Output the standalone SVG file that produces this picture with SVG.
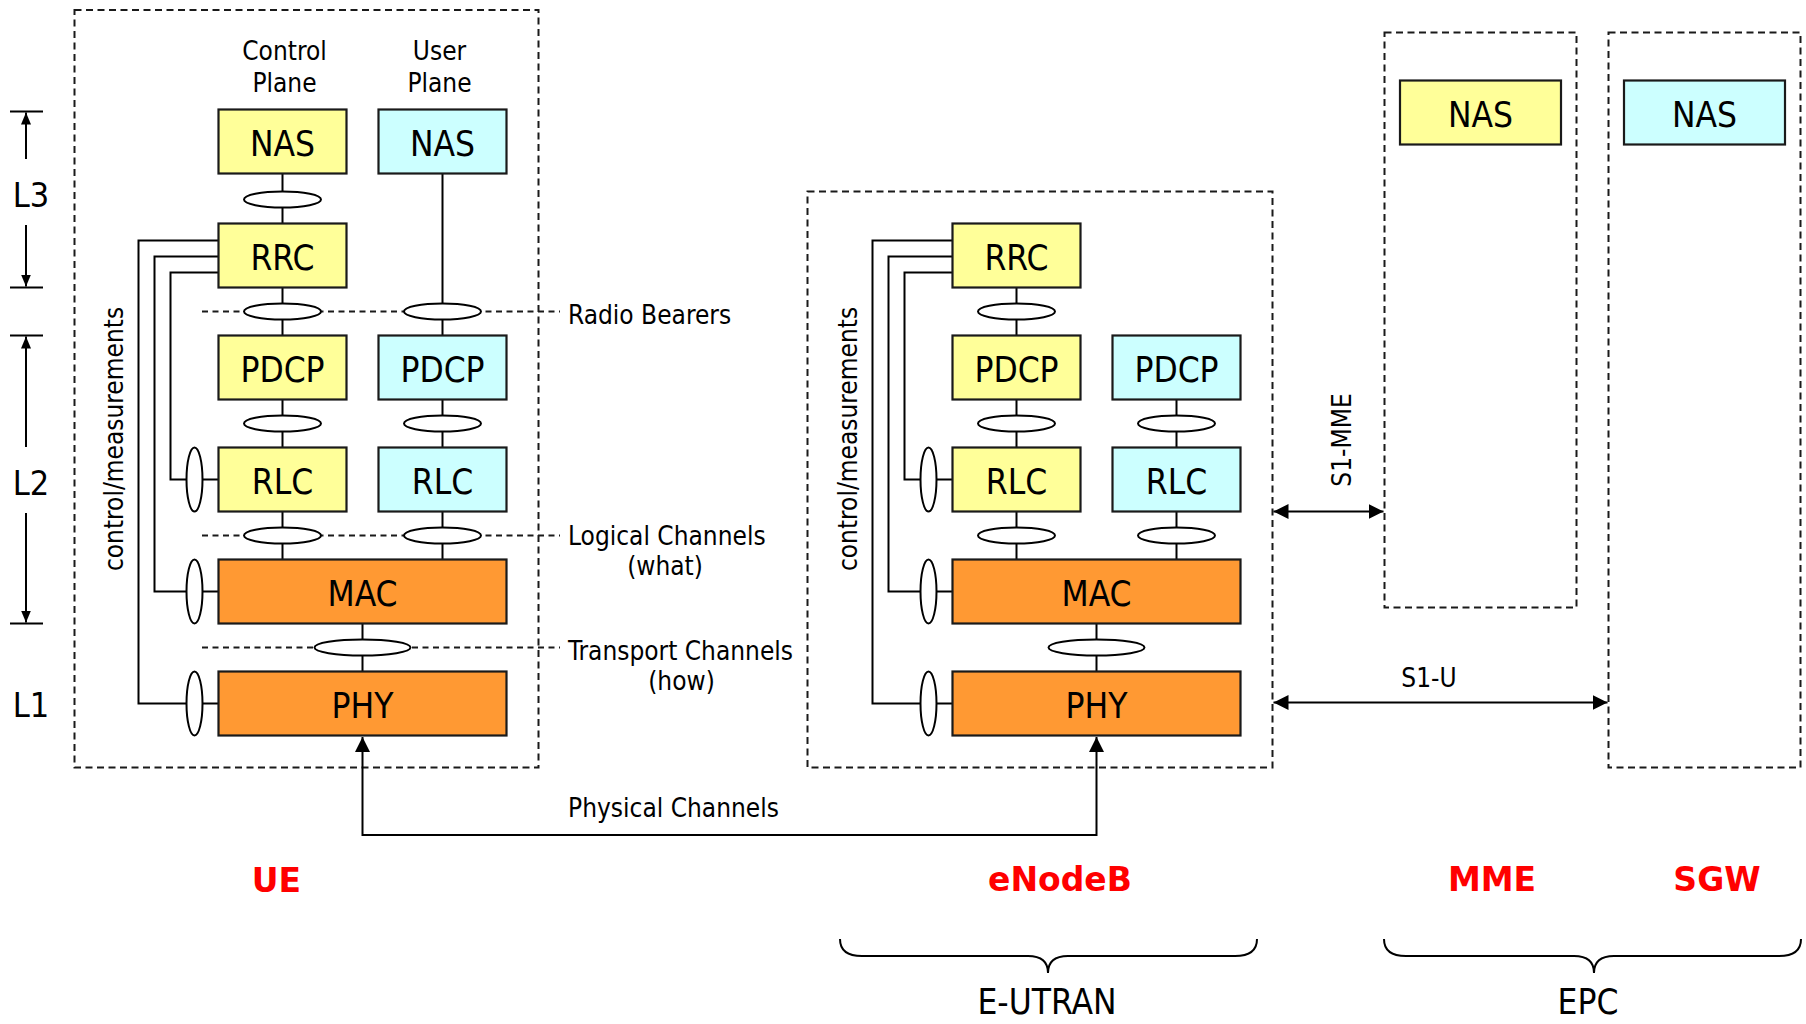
<svg xmlns="http://www.w3.org/2000/svg" width="1806" height="1024" viewBox="0 0 1806 1024">
  <style>
    .frame { fill: none; stroke: #1a1a1a; stroke-width: 2; stroke-dasharray: 7 4.5; }
    .sep { fill: none; stroke: #1a1a1a; stroke-width: 2; stroke-dasharray: 6 4.5; }
    .blk { stroke: #1a1a1a; stroke-width: 2.2; }
    .cp { fill: #ffff99; }
    .up { fill: #ccffff; }
    .l12 { fill: #ff9933; }
    .wire { fill: none; stroke: #000; stroke-width: 2; }
    .sap { fill: #fff; stroke: #000; stroke-width: 2; }
    .t { font-family: "DejaVu Sans Condensed", "DejaVu Sans", sans-serif; font-stretch: condensed; fill: #000; }
    .lbl { font-size: 26px; }
    .box { font-size: 35px; text-anchor: middle; }
    .lvl { font-size: 34px; text-anchor: middle; }
    .grp { font-size: 35px; text-anchor: middle; }
    .ent { font-family: "DejaVu Sans", sans-serif; font-weight: bold; font-size: 33px; fill: #ff0000; text-anchor: middle; }
    .mid { text-anchor: middle; }
  </style>
  <defs>
    <marker id="tip" markerUnits="userSpaceOnUse" markerWidth="16" markerHeight="16" refX="15" refY="7.5" orient="auto-start-reverse">
      <path d="M0,0 L15,7.5 L0,15 z" fill="#000"/>
    </marker>
    <marker id="tipSm" markerUnits="userSpaceOnUse" markerWidth="13" markerHeight="11" refX="12" refY="5" orient="auto">
      <path d="M0,0 L12,5 L0,10 z" fill="#000"/>
    </marker>
  </defs>
  <rect width="1806" height="1024" fill="#fff"/>

  <!-- node frames -->
  <g id="ue-frame"><rect class="frame" x="74.5" y="10" width="464" height="757.5"/></g>
  <g id="enb-frame"><rect class="frame" x="807.5" y="191.5" width="465" height="576"/></g>
  <g id="mme-frame"><rect class="frame" x="1384.5" y="32.5" width="192" height="575"/></g>
  <g id="sgw-frame"><rect class="frame" x="1608.5" y="32.5" width="192" height="735"/></g>

  <!-- layer indicators -->
  <g id="layers">
    <path class="wire" d="M10,111.5 H43 M10,287.5 H43 M10,335.5 H43 M10,623.5 H43"/>
    <path class="wire" d="M26,159 V112.5" marker-end="url(#tipSm)"/>
    <path class="wire" d="M26,225 V286.5" marker-end="url(#tipSm)"/>
    <path class="wire" d="M26,447 V336.5" marker-end="url(#tipSm)"/>
    <path class="wire" d="M26,513 V622.5" marker-end="url(#tipSm)"/>
    <text class="t lvl" x="31" y="207">L3</text>
    <text class="t lvl" x="31" y="495">L2</text>
    <text class="t lvl" x="31" y="717">L1</text>
  </g>

  <!-- connectors -->
  <g id="connectors">
    <!-- channel boundaries -->
    <path class="sep" d="M202,311.5 H560 M202,535.5 H560 M202,647.5 H560"/>
    <!-- UE stack -->
    <path class="wire" d="M282.5,173.5 V223.5 M282.5,287.5 V335.5 M282.5,399.5 V447.5 M282.5,511.5 V559.5"/>
    <path class="wire" d="M442.5,173.5 V335.5 M442.5,399.5 V447.5 M442.5,511.5 V559.5 M362.5,623.5 V671.5"/>
    <path class="wire" d="M218.5,240.5 H138.5 V703.5 H218.5 M218.5,256.5 H154.5 V591.5 H218.5 M218.5,272.5 H170.5 V479.5 H218.5"/>
    <!-- eNodeB stack -->
    <path class="wire" d="M1016.5,287.5 V335.5 M1016.5,399.5 V447.5 M1016.5,511.5 V559.5"/>
    <path class="wire" d="M1176.5,399.5 V447.5 M1176.5,511.5 V559.5 M1096.5,623.5 V671.5"/>
    <path class="wire" d="M952.5,240.5 H872.5 V703.5 H952.5 M952.5,256.5 H888.5 V591.5 H952.5 M952.5,272.5 H904.5 V479.5 H952.5"/>
    <!-- service access points -->
    <ellipse class="sap" cx="282.5" cy="199.5" rx="38.5" ry="8"/>
    <ellipse class="sap" cx="282.5" cy="311.5" rx="38.5" ry="8"/>
    <ellipse class="sap" cx="442.5" cy="311.5" rx="38.5" ry="8"/>
    <ellipse class="sap" cx="282.5" cy="423.5" rx="38.5" ry="8"/>
    <ellipse class="sap" cx="442.5" cy="423.5" rx="38.5" ry="8"/>
    <ellipse class="sap" cx="282.5" cy="535.5" rx="38.5" ry="8"/>
    <ellipse class="sap" cx="442.5" cy="535.5" rx="38.5" ry="8"/>
    <ellipse class="sap" cx="362.5" cy="647.5" rx="48" ry="8"/>
    <ellipse class="sap" cx="194.5" cy="479.5" rx="8" ry="32"/>
    <ellipse class="sap" cx="194.5" cy="591.5" rx="8" ry="32"/>
    <ellipse class="sap" cx="194.5" cy="703.5" rx="8" ry="32"/>
    <ellipse class="sap" cx="1016.5" cy="311.5" rx="38.5" ry="8"/>
    <ellipse class="sap" cx="1016.5" cy="423.5" rx="38.5" ry="8"/>
    <ellipse class="sap" cx="1176.5" cy="423.5" rx="38.5" ry="8"/>
    <ellipse class="sap" cx="1016.5" cy="535.5" rx="38.5" ry="8"/>
    <ellipse class="sap" cx="1176.5" cy="535.5" rx="38.5" ry="8"/>
    <ellipse class="sap" cx="1096.5" cy="647.5" rx="48" ry="8"/>
    <ellipse class="sap" cx="928.5" cy="479.5" rx="8" ry="32"/>
    <ellipse class="sap" cx="928.5" cy="591.5" rx="8" ry="32"/>
    <ellipse class="sap" cx="928.5" cy="703.5" rx="8" ry="32"/>
    <!-- physical channels -->
    <path class="wire" d="M362.5,737 V835 H1096.5 V737" marker-start="url(#tip)" marker-end="url(#tip)"/>
    <!-- S1 interfaces -->
    <path class="wire" d="M1273.5,511.5 H1383.5" marker-start="url(#tip)" marker-end="url(#tip)"/>
    <path class="wire" d="M1273.5,702.5 H1607.5" marker-start="url(#tip)" marker-end="url(#tip)"/>
  </g>

  <!-- UE protocol stack -->
  <g id="ue">
    <text class="t lbl mid" x="284.5" y="60">Control</text>
    <text class="t lbl mid" x="284.5" y="92">Plane</text>
    <text class="t lbl mid" x="439.5" y="60">User</text>
    <text class="t lbl mid" x="439.5" y="92">Plane</text>
    <text class="t lbl mid" transform="translate(123,439) rotate(-90)">control/measurements</text>
  </g>
  <g id="ue-nas-c"><rect class="blk cp" x="218.5" y="109.5" width="128" height="64"/><text class="t box" x="282.5" y="156">NAS</text></g>
  <g id="ue-nas-u"><rect class="blk up" x="378.5" y="109.5" width="128" height="64"/><text class="t box" x="442.5" y="156">NAS</text></g>
  <g id="ue-rrc"><rect class="blk cp" x="218.5" y="223.5" width="128" height="64"/><text class="t box" x="282.5" y="270">RRC</text></g>
  <g id="ue-pdcp-c"><rect class="blk cp" x="218.5" y="335.5" width="128" height="64"/><text class="t box" x="282.5" y="382">PDCP</text></g>
  <g id="ue-pdcp-u"><rect class="blk up" x="378.5" y="335.5" width="128" height="64"/><text class="t box" x="442.5" y="382">PDCP</text></g>
  <g id="ue-rlc-c"><rect class="blk cp" x="218.5" y="447.5" width="128" height="64"/><text class="t box" x="282.5" y="494">RLC</text></g>
  <g id="ue-rlc-u"><rect class="blk up" x="378.5" y="447.5" width="128" height="64"/><text class="t box" x="442.5" y="494">RLC</text></g>
  <g id="ue-mac"><rect class="blk l12" x="218.5" y="559.5" width="288" height="64"/><text class="t box" x="362.5" y="606">MAC</text></g>
  <g id="ue-phy"><rect class="blk l12" x="218.5" y="671.5" width="288" height="64"/><text class="t box" x="362.5" y="718">PHY</text></g>

  <!-- channel labels -->
  <g id="channel-labels">
    <text class="t lbl" x="568" y="323.5">Radio Bearers</text>
    <text class="t lbl" x="568" y="544.5">Logical Channels</text>
    <text class="t lbl mid" x="665" y="575">(what)</text>
    <text class="t lbl" x="568" y="659.5">Transport Channels</text>
    <text class="t lbl mid" x="681.5" y="690">(how)</text>
    <text class="t lbl mid" x="673.5" y="816.5">Physical Channels</text>
    <text class="t lbl mid" x="1429" y="687">S1-U</text>
    <text class="t lbl mid" transform="translate(1351,440) rotate(-90)">S1-MME</text>
  </g>

  <!-- eNodeB protocol stack -->
  <g id="enb">
    <text class="t lbl mid" transform="translate(857,439) rotate(-90)">control/measurements</text>
  </g>
  <g id="enb-rrc"><rect class="blk cp" x="952.5" y="223.5" width="128" height="64"/><text class="t box" x="1016.5" y="270">RRC</text></g>
  <g id="enb-pdcp-c"><rect class="blk cp" x="952.5" y="335.5" width="128" height="64"/><text class="t box" x="1016.5" y="382">PDCP</text></g>
  <g id="enb-pdcp-u"><rect class="blk up" x="1112.5" y="335.5" width="128" height="64"/><text class="t box" x="1176.5" y="382">PDCP</text></g>
  <g id="enb-rlc-c"><rect class="blk cp" x="952.5" y="447.5" width="128" height="64"/><text class="t box" x="1016.5" y="494">RLC</text></g>
  <g id="enb-rlc-u"><rect class="blk up" x="1112.5" y="447.5" width="128" height="64"/><text class="t box" x="1176.5" y="494">RLC</text></g>
  <g id="enb-mac"><rect class="blk l12" x="952.5" y="559.5" width="288" height="64"/><text class="t box" x="1096.5" y="606">MAC</text></g>
  <g id="enb-phy"><rect class="blk l12" x="952.5" y="671.5" width="288" height="64"/><text class="t box" x="1096.5" y="718">PHY</text></g>

  <!-- core network -->
  <g id="mme-nas"><rect class="blk cp" x="1400" y="80.5" width="161" height="64"/><text class="t box" x="1480.5" y="127">NAS</text></g>
  <g id="sgw-nas"><rect class="blk up" x="1624" y="80.5" width="161" height="64"/><text class="t box" x="1704.5" y="127">NAS</text></g>

  <!-- entity names -->
  <g id="entities">
    <text class="ent" x="276.5" y="891.5">UE</text>
    <text class="ent" x="1060" y="891">eNodeB</text>
    <text class="ent" x="1492" y="891">MME</text>
    <text class="ent" x="1717" y="891">SGW</text>
  </g>

  <!-- network groupings -->
  <g id="e-utran">
    <path class="wire" d="M840,939 Q840,956 862,956 H1028 Q1048,956 1048,973 Q1048,956 1068,956 H1235 Q1257,956 1257,939"/>
    <text class="t grp" x="1047" y="1014">E-UTRAN</text>
  </g>
  <g id="epc">
    <path class="wire" d="M1384,939 Q1384,956 1406,956 H1574 Q1594,956 1594,973 Q1594,956 1614,956 H1779 Q1801,956 1801,939"/>
    <text class="t grp" x="1588" y="1014">EPC</text>
  </g>
</svg>
